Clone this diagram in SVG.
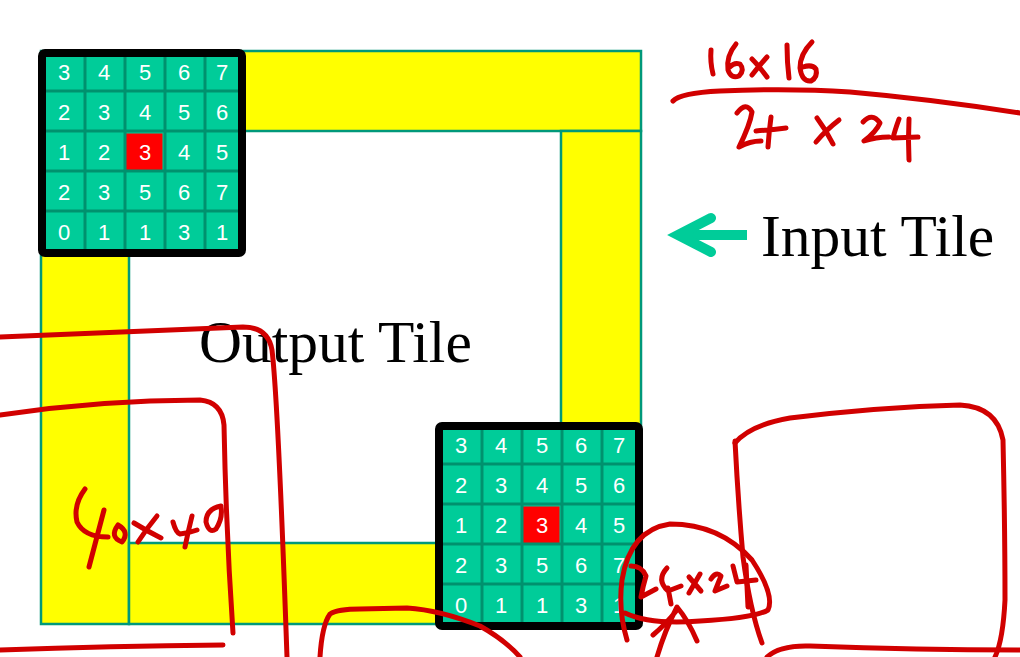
<svg xmlns="http://www.w3.org/2000/svg" width="1020" height="657" viewBox="0 0 1020 657">
<defs>
<style>
.ys{fill:#FFFF00;stroke:#00997A;stroke-width:2.5}
.cell{fill:#00CC99}
.gl{stroke:#00916E;stroke-width:3}
.bd{fill:none;stroke:#000;stroke-width:8}
.num{font-family:"Liberation Sans",Arial,sans-serif;font-size:22px;fill:#fff;text-anchor:middle}
.lbl{font-family:"Liberation Serif","Times New Roman",serif;font-size:59.5px;fill:#000}
.ink{fill:none;stroke:#D10000;stroke-width:5;stroke-linecap:round;stroke-linejoin:round}
</style>
<g id="grid">
<rect class="cell" x="0" y="0" width="200" height="200"/>
<rect x="81.5" y="81.5" width="37" height="37" fill="#FF0000"/>
<path class="gl" d="M41,0V200M81,0V200M121,0V200M161,0V200M0,39H200M0,79H200M0,119H200M0,159H200"/>
<rect class="bd" x="-2" y="1" width="200" height="200" rx="3"/>
<g class="num">
<text x="20" y="28">3</text><text x="60" y="28">4</text><text x="101" y="28">5</text><text x="140" y="28">6</text><text x="178" y="28">7</text>
<text x="20" y="68">2</text><text x="60" y="68">3</text><text x="101" y="68">4</text><text x="140" y="68">5</text><text x="178" y="68">6</text>
<text x="20" y="108">1</text><text x="60" y="108">2</text><text x="101" y="108">3</text><text x="140" y="108">4</text><text x="178" y="108">5</text>
<text x="20" y="148">2</text><text x="60" y="148">3</text><text x="101" y="148">5</text><text x="140" y="148">6</text><text x="178" y="148">7</text>
<text x="20" y="188">0</text><text x="60" y="188">1</text><text x="101" y="188">1</text><text x="140" y="188">3</text><text x="178" y="188">1</text>
</g>
</g>
</defs>

<g id="input-tile-frame">
<rect class="ys" x="41" y="51" width="600" height="80"/>
<rect class="ys" x="561" y="131" width="80" height="494"/>
<rect class="ys" x="41" y="131" width="88" height="493"/>
<rect class="ys" x="129" y="543" width="432" height="81"/>
</g>

<g id="grid-top-left" transform="translate(44,52)"><use href="#grid"/></g>
<g id="grid-bottom-right" transform="translate(441,425)"><use href="#grid"/></g>

<g id="output-tile-label"><text class="lbl" x="199" y="362">Output Tile</text></g>
<g id="input-tile-label"><text class="lbl" x="761" y="256">Input Tile</text></g>

<g id="connectors">
<path d="M747,235H684" fill="none" stroke="#00CC99" stroke-width="10"/>
<path d="M711,218L678,235L711,252" fill="none" stroke="#00CC99" stroke-width="10" stroke-linecap="round" stroke-linejoin="miter"/>
</g>

<g id="annotations" class="ink">
<path d="M711,50Q710,62 713,74"/>
<path d="M736,44Q726,56 728,70Q731,79 739,76Q745,70 740,64Q734,62 730,67"/>
<path d="M752,59Q759,66 767,77M767,57Q759,66 752,75"/>
<path d="M787,45Q787,62 789,78"/>
<path d="M812,42Q800,54 800,68Q802,82 811,81Q818,77 816,69Q812,64 803,67"/>
<path d="M673,101Q680,93 720,91Q790,88 850,92Q930,99 1020,113"/>
<path d="M737,113Q746,101 752,112Q750,125 739,147Q750,141 761,141"/>
<path d="M771,117Q769,132 768,147M756,131Q770,130 786,128"/>
<path d="M817,118Q826,130 833,144M839,120Q826,130 816,142"/>
<path d="M863,122Q872,112 880,123Q876,132 864,141Q876,137 889,137"/>
<path d="M899,119Q895,130 893,138L918,137M909,119Q908,140 909,160"/>

<path d="M0,337Q120,332 243,327Q268,327 272,350Q278,400 287,657"/>
<path d="M0,415Q100,400 200,400Q222,402 224,425Q226,530 233,633"/>
<path d="M0,650Q110,646 223,645"/>
<path d="M85,489Q73,505 77,522Q84,537 108,537M104,510Q96,540 89,567"/>
<path d="M118,525Q109,537 122,542Q130,532 118,525"/>
<path d="M134,523Q147,531 161,538M157,516Q147,528 138,542"/>
<path d="M173,522Q176,533 180,534Q189,533 197,530M192,516Q188,532 185,547"/>
<path d="M221,506Q206,509 206,522Q209,534 216,529Q223,518 221,507"/>

<path d="M320,657Q322,625 330,614Q338,609 360,609L407,608Q440,610 480,626Q505,640 520,657"/>

<path d="M735,443Q750,425 790,418Q880,407 960,405Q997,407 1003,440Q1005,530 1005,600Q1003,640 995,657"/>
<path d="M735,441Q738,500 743,557Q750,610 762,643"/>
<path d="M767,657Q780,645 810,646Q920,650 1020,650"/>
<path d="M627,640Q618,610 622,580Q630,530 670,524Q720,524 752,560Q775,595 768,610Q755,618 700,621Q650,625 625,613"/>
<path d="M631,566Q642,566 646,576Q643,586 641,597L656,589"/>
<path d="M667,568Q656,580 668,591L681,586M668,588L671,604"/>
<path d="M689,577L701,591M700,574L689,593"/>
<path d="M711,579Q716,571 721,576L715,591L727,586"/>
<path d="M733,566Q736,578 737,582L756,580M746,565L748,607"/>
<path d="M657,657Q665,630 677,607Q688,620 697,641M653,635Q665,625 677,610"/>
</g>
</svg>
